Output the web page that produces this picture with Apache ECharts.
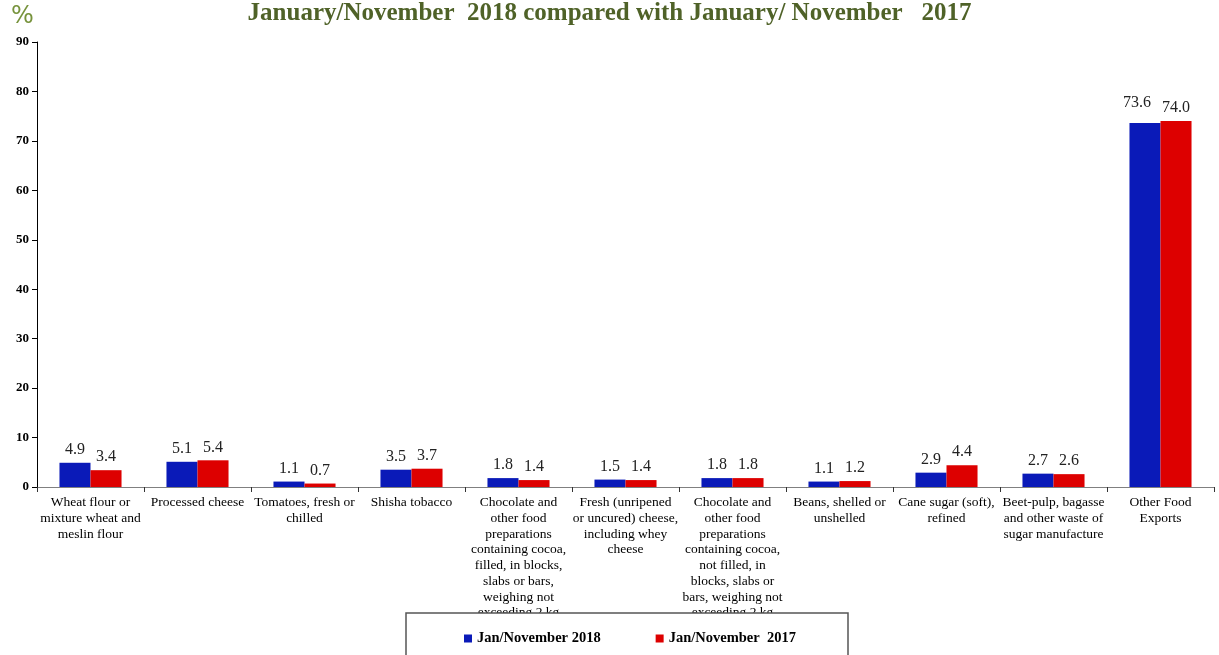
<!DOCTYPE html>
<html>
<head>
<meta charset="utf-8">
<script src="https://cdn.jsdelivr.net/npm/echarts@6/dist/echarts.min.js"></script>
<style>
  html, body { margin: 0; padding: 0; background: #fff; }
  #main { width: 1219px; height: 655px; }
</style>
</head>
<body>
<div id="main"></div>
<script>
var categories = [
    'Wheat flour or\nmixture wheat and\nmeslin flour',
    'Processed cheese',
    'Tomatoes, fresh or\nchilled',
    'Shisha tobacco',
    'Chocolate and\nother food\npreparations\ncontaining cocoa,\nfilled, in blocks,\nslabs or bars,\nweighing not\nexceeding 2 kg',
    'Fresh (unripened\nor uncured) cheese,\nincluding whey\ncheese',
    'Chocolate and\nother food\npreparations\ncontaining cocoa,\nnot filled, in\nblocks, slabs or\nbars, weighing not\nexceeding 2 kg',
    'Beans, shelled or\nunshelled',
    'Cane sugar (soft),\nrefined',
    'Beet-pulp, bagasse\nand other waste of\nsugar manufacture',
    'Other Food\nExports'
];
var values2018 = [4.9, 5.1, 1.1, 3.5, 1.8, 1.5, 1.8, 1.1, 2.9, 2.7, 73.6];
var values2017 = [3.4, 5.4, 0.7, 3.7, 1.4, 1.4, 1.8, 1.2, 4.4, 2.6, 74.0];
var seriesNames = ['Jan/November 2018', 'Jan/November  2017'];

var serif = '"Liberation Serif", "Times New Roman", serif';

var barLabel = {
    show: true,
    position: 'top',
    distance: 5,
    color: '#222',
    fontFamily: serif,
    fontSize: 16,
    formatter: function (p) { return p.value.toFixed(1); }
};

// the last blue label sits a bit higher and to the left in the original
var data2018 = values2018.map(function (v, i) {
    if (i === values2018.length - 1) {
        return { value: v, label: { offset: [-8, -7] } };
    }
    return v;
});

var option = {
    backgroundColor: '#fff',
    animation: false,
    title: {
        text: 'January/November  2018 compared with January/ November   2017',
        left: 'center',
        top: -4,
        textStyle: {
            color: '#4F6228',
            fontFamily: serif,
            fontWeight: 'bold',
            fontSize: 25
        }
    },
    graphic: [{
        type: 'text',
        left: 11,
        top: 5,
        style: {
            text: '%',
            fill: '#77933C',
            font: '24px "DejaVu Sans", sans-serif'
        }
    }, {
        type: 'rect',
        shape: { x: 406, y: 613, width: 442, height: 60 },
        style: { fill: '#fff', stroke: '#555', lineWidth: 1.5 },
        z: 5
    }],
    legend: {
        left: 459,
        top: 626,
        itemGap: 55,
        itemWidth: 8,
        itemHeight: 8,
        itemTextGap: 2,
        icon: 'rect',
        z: 10,
        textStyle: {
            fontFamily: serif,
            fontWeight: 'bold',
            fontSize: 14.5,
            color: '#000'
        },
        data: seriesNames
    },
    grid: {
        left: 37,
        right: 5,
        top: 42,
        bottom: 168
    },
    xAxis: {
        type: 'category',
        data: categories,
        axisLine: { lineStyle: { color: '#808080' } },
        axisTick: { show: true, length: 5, lineStyle: { color: '#333' } },
        axisLabel: {
            interval: 0,
            margin: 8,
            color: '#000',
            fontFamily: serif,
            fontSize: 13.5,
            lineHeight: 15.7
        }
    },
    yAxis: {
        type: 'value',
        min: 0,
        max: 90,
        interval: 10,
        splitLine: { show: false },
        axisLine: { show: true, lineStyle: { color: '#000' } },
        axisTick: { show: true, length: 5, lineStyle: { color: '#000' } },
        axisLabel: {
            color: '#000',
            fontFamily: serif,
            fontWeight: 'bold',
            fontSize: 13,
            margin: 8
        }
    },
    series: [{
        name: seriesNames[0],
        type: 'bar',
        data: data2018,
        barGap: '0%',
        barCategoryGap: '42%',
        itemStyle: { color: '#0A1AB8' },
        label: barLabel
    }, {
        name: seriesNames[1],
        type: 'bar',
        data: values2017,
        itemStyle: { color: '#DD0000' },
        label: barLabel
    }]
};

var myChart = echarts.init(document.getElementById('main'));
myChart.setOption(option);
</script>
</body>
</html>
